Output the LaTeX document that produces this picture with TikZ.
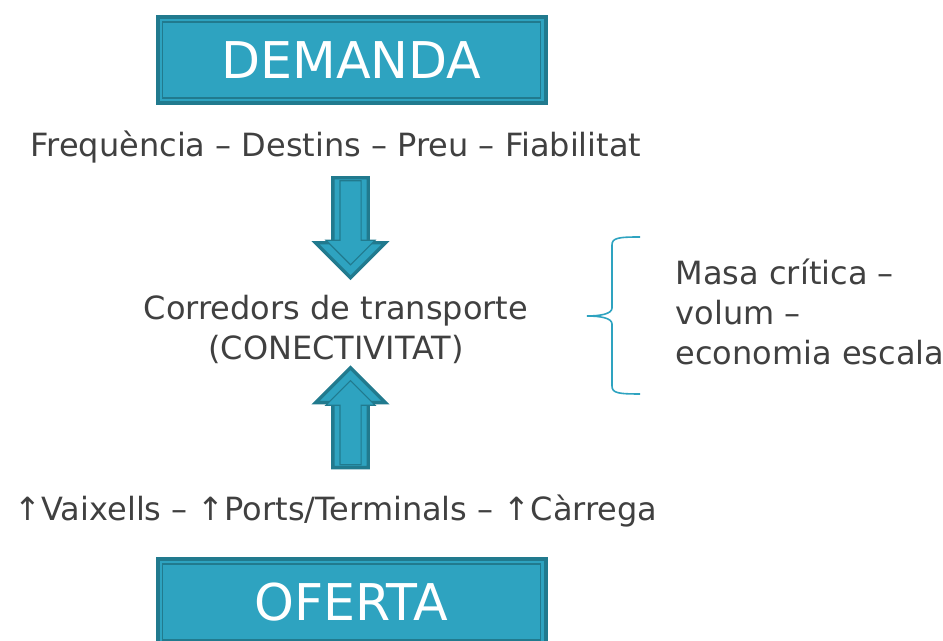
\documentclass[tikz,border=0pt]{standalone}
\usepackage{fontspec}
\setmainfont{DejaVu Sans}
\usetikzlibrary{positioning}
\usetikzlibrary{calc}
\usetikzlibrary{shapes.arrows}

\definecolor{boxfill}{HTML}{2EA3C0}
\definecolor{boxdark}{HTML}{217A8E}
\definecolor{txtgray}{HTML}{404040}

\tikzset{
titlebox/.style={draw=boxdark,line width=3pt,fill=boxfill,text=white,minimum width=291pt,minimum height=64.5pt,font=\fontsize{38}{40}\selectfont},
innerline/.style={draw=boxdark,line width=0.9pt},
bodytext/.style={text=txtgray,font=\fontsize{24}{30}\selectfont},
blockarrow/.style={single arrow,draw=boxdark,line width=2.5pt,fill=boxfill,minimum height=75pt,inner sep=12pt,single arrow head extend=13pt,outer sep=0pt},
innerarrow/.style={single arrow,draw=boxdark,line width=0.8pt,fill=boxfill,minimum height=63pt,inner sep=7.5pt,single arrow head extend=10.5pt,outer sep=0pt},
bracket/.style={draw=boxfill,line width=1.2pt}
}

\begin{document}
\begin{tikzpicture}[x=0.75pt,y=0.75pt]
\useasboundingbox (0,0) rectangle (943,641);

\node[titlebox](dem) at (351.5,581){DEMANDA};
\node[titlebox](ofe) at (351.5,39){OFERTA};
\draw[innerline]($(dem.north west)+(7,-7)$) rectangle ($(dem.south east)+(-7,7)$);
\draw[innerline]($(ofe.north west)+(7,-7)$) rectangle ($(ofe.south east)+(-7,7)$);

\node[bodytext](freq) at (336,494){Frequència – Destins – Preu – Fiabilitat};
\node[bodytext,align=center](corr) at (336,312){Corredors de transporte\\(CONECTIVITAT)};
\node[bodytext](ofer) at (336,130){↑Vaixells – ↑Ports/Terminals – ↑Càrrega};
\node[bodytext,align=left,anchor=west](masa) at (671,329){Masa crítica –\\volum –\\economia escala};

\node[blockarrow,shape border rotate=270](down) at (350.5,422){};
\node[innerarrow,shape border rotate=270](downin) at (350.5,423.5){};
\node[blockarrow,shape border rotate=90](up) at (350.5,214.5){};
\node[innerarrow,shape border rotate=90](upin) at (350.5,213){};

\coordinate (btop) at (640,404);
\coordinate (btip) at (587,325);
\coordinate (bbot) at (640,247);
\draw[bracket](btop) .. controls (618,404) and (612,403) .. (612,396) -- (612,333)
.. controls (612,327) and (600,325) .. (btip)
.. controls (600,325) and (612,323) .. (612,317) -- (612,255)
.. controls (612,248) and (618,247) .. (bbot);
\end{tikzpicture}
\end{document}
